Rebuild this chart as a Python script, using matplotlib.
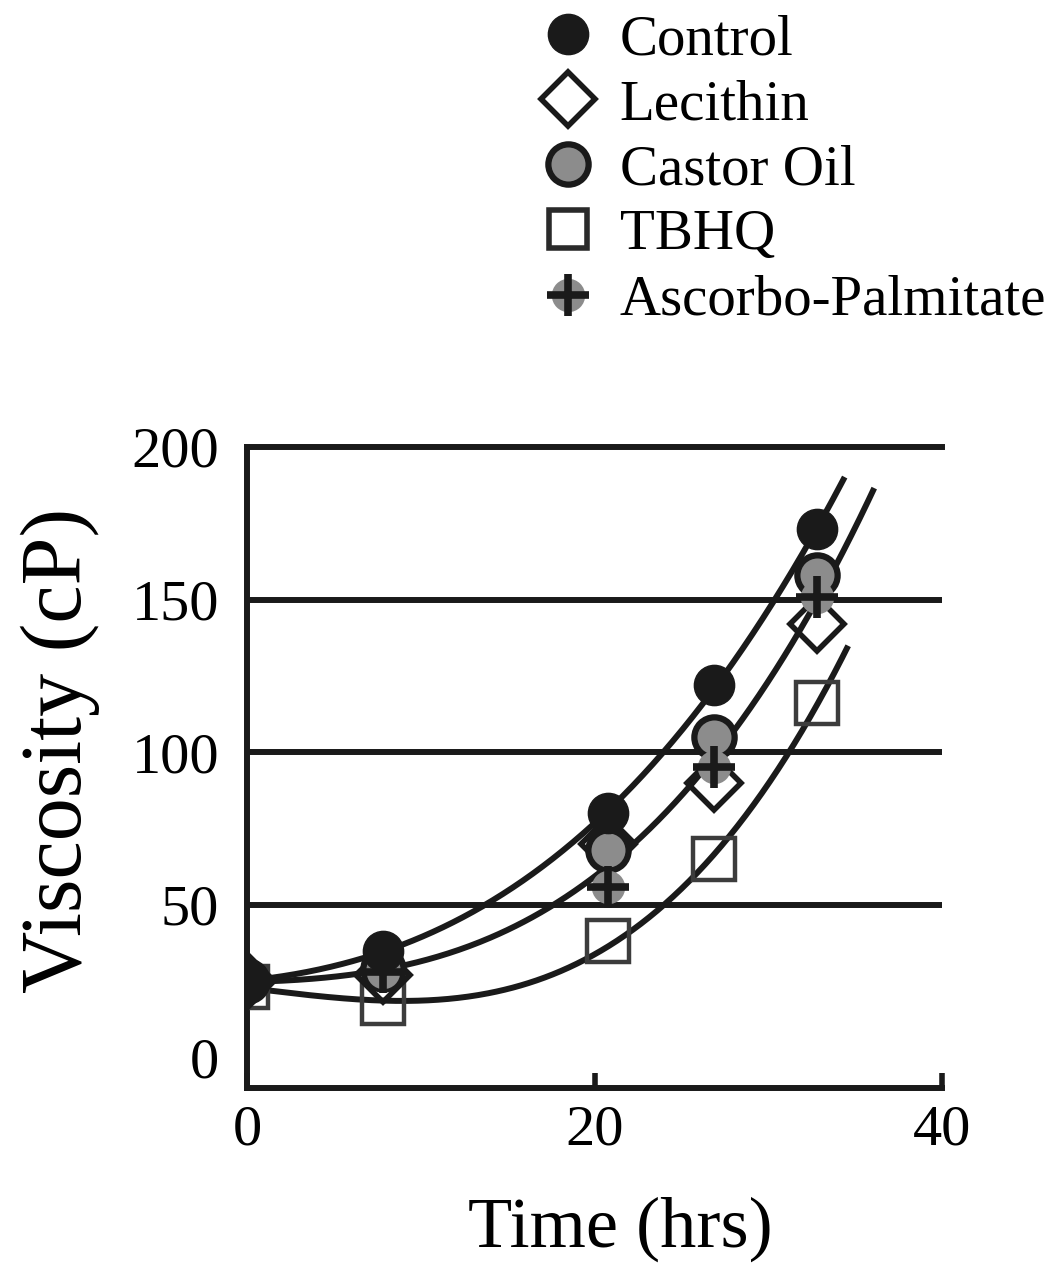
import numpy as np
import matplotlib.pyplot as plt
from matplotlib.lines import Line2D
from matplotlib.legend_handler import HandlerTuple

plt.rcParams['font.family'] = ['Liberation Serif', 'DejaVu Serif']

# sampling times (hrs) and viscosity (cP)
time_hrs = [0, 7.8, 20.8, 26.9, 32.8]
control = [25, 35, 80, 122, 173]
lecithin = [25, 27, 70, 90, 142]
castor_oil = [25, 29, 68, 105, 158]
tbhq = [23, 18, 38, 65, 116]
ascorbo = [25, 28, 56, 95, 151]

# where each fitted curve stops (top, middle, bottom)
fit_end = [34.4, 36.1, 34.6]

grid_levels = [50, 100, 150]
ink = "#1a1a1a"
grey = "#8c8c8c"


def fitted_curve(t, y, t_end, deg=3):
    """
    Polynomial trend line through one group of points.
    """
    coef = np.polyfit(t, y, deg)
    tt = np.linspace(0, t_end, 300)
    return tt, np.polyval(coef, tt)


fig = plt.figure(figsize=(10.64, 12.78), dpi=100)
ax = fig.add_axes([247 / 1064, 190 / 1278, 695 / 1064, 641 / 1278])

# Trend lines: control, the three additives pooled, TBHQ
additives_mean = np.mean([lecithin, castor_oil, ascorbo], axis=0)
for ys, t_end in zip([control, additives_mean, tbhq], fit_end):
    tt, yy = fitted_curve(time_hrs, ys, t_end)
    ax.plot(tt, yy, color=ink, lw=4.3, zorder=2, solid_capstyle="butt")

# Data points
ax.plot(time_hrs, tbhq, ls="none", marker="s", ms=30, mfc="none",
        mec="#3c3c3c", mew=3.2, zorder=3)
ax.plot(time_hrs, lecithin, ls="none", marker="D", ms=28, mfc="none",
        mec=ink, mew=4.0, zorder=3)
ax.plot(time_hrs, castor_oil, ls="none", marker="o", ms=29, mfc=grey,
        mec=ink, mew=4.5, zorder=4)
ax.plot(time_hrs, ascorbo, ls="none", marker="o", ms=24, mfc=grey,
        mec="none", zorder=4)
ax.plot(time_hrs, ascorbo, ls="none", marker="+", ms=30, mec=ink,
        mew=5.5, zorder=4)
ax.plot(time_hrs, control, ls="none", marker="o", ms=29, mfc=ink,
        mec=ink, zorder=5)

for level in grid_levels:
    ax.axhline(level, color=ink, lw=4.3, zorder=1)

ax.set_xlim(0, 40)
ax.set_ylim(-10, 200)
ax.set_xticks([0, 20, 40])
ax.set_yticks([0, 50, 100, 150, 200])

for side in ["left", "bottom", "top"]:
    ax.spines[side].set_linewidth(4.3)
    ax.spines[side].set_color(ink)
ax.spines["right"].set_visible(False)

ax.tick_params(axis="x", direction="in", length=11, width=4, color=ink,
               labelsize=42, pad=12)
ax.tick_params(axis="y", length=0, labelsize=42, pad=20)

ax.set_xlabel("Time (hrs)", fontsize=52)
ax.xaxis.set_label_coords(0.537, -0.17)
ax.set_ylabel("Viscosity (cP)", fontsize=62)
ax.yaxis.set_label_coords(-0.212, 0.527)

# Legend above the plot
h_control = Line2D([], [], ls="none", marker="o", ms=29, mfc=ink, mec=ink)
h_lecithin = Line2D([], [], ls="none", marker="D", ms=28, mfc="none",
                    mec=ink, mew=4.0)
h_castor = Line2D([], [], ls="none", marker="o", ms=29, mfc=grey, mec=ink,
                  mew=4.5)
h_tbhq = Line2D([], [], ls="none", marker="s", ms=28, mfc="none",
                mec="#2a2a2a", mew=4.0)
h_asc_dot = Line2D([], [], ls="none", marker="o", ms=24, mfc=grey,
                   mec="none")
h_asc_plus = Line2D([], [], ls="none", marker="+", ms=30, mec=ink, mew=5.5)

fig.legend(
    [h_control, h_lecithin, h_castor, h_tbhq, (h_asc_dot, h_asc_plus)],
    ["Control", "Lecithin", "Castor Oil", "TBHQ", "Ascorbo-Palmitate"],
    handler_map={tuple: HandlerTuple(ndivide=1)},
    loc="upper left",
    bbox_to_anchor=(540 / 1064, 0.989),
    frameon=False,
    fontsize=41,
    handlelength=1.0,
    handletextpad=0.4,
    labelspacing=0.23,
    borderpad=0,
    borderaxespad=0,
)

fig.savefig("out.png", dpi=100)
